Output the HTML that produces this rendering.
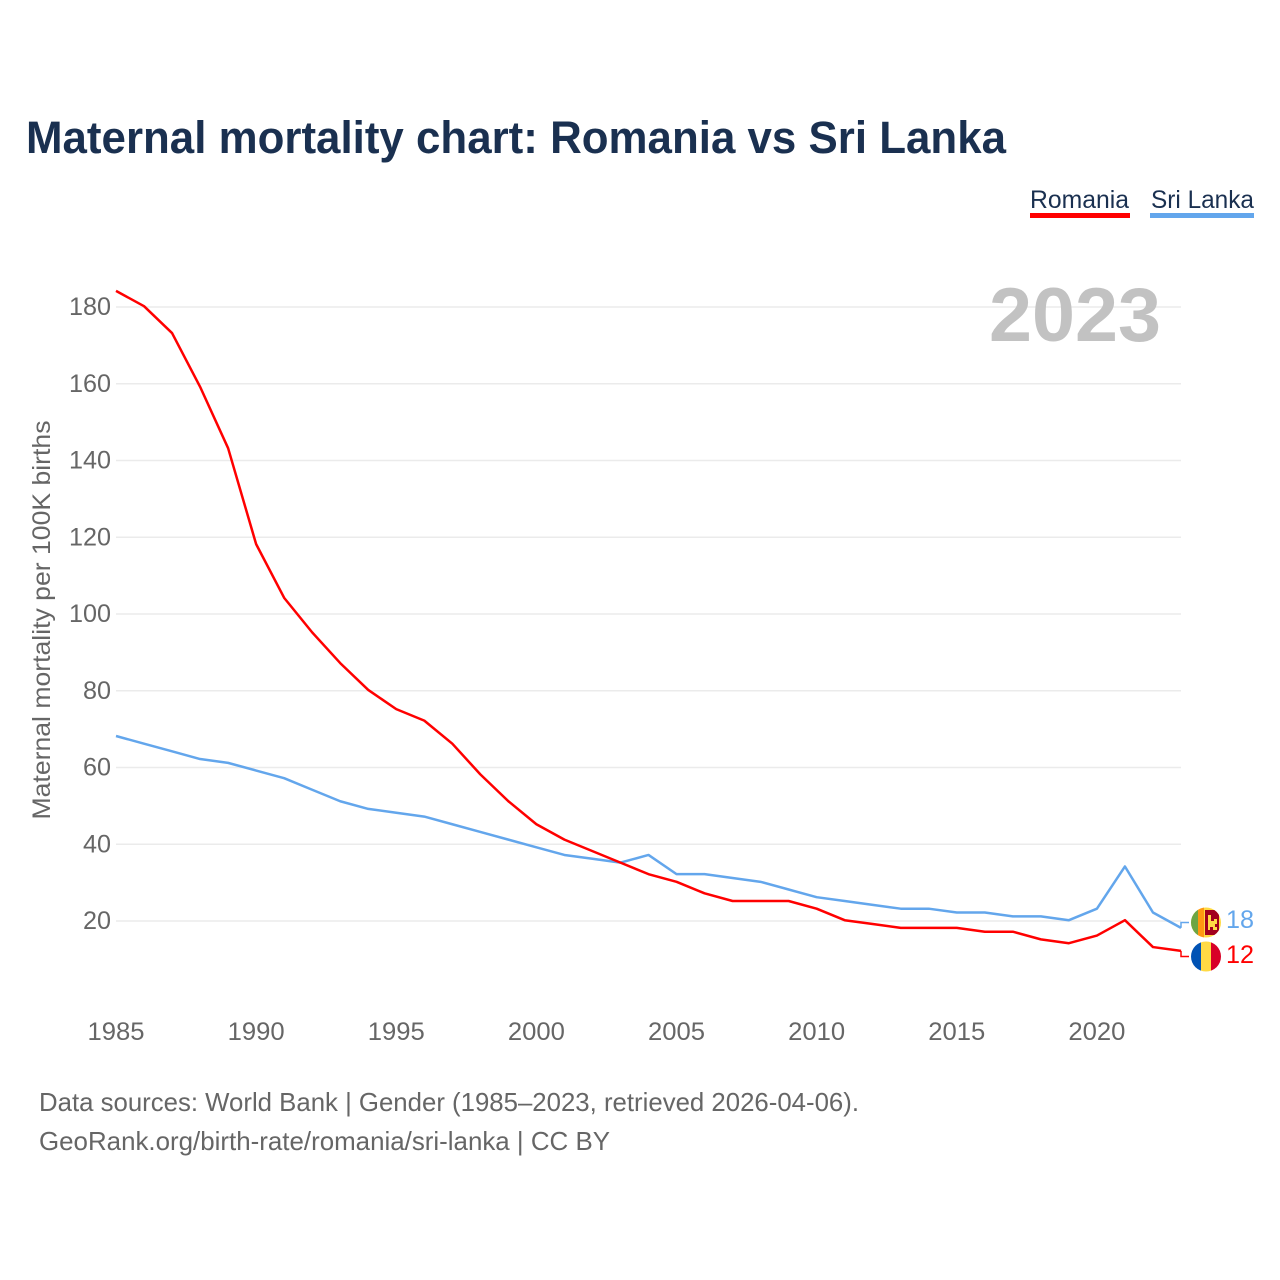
<!DOCTYPE html>
<html>
<head>
<meta charset="utf-8">
<style>
html,body{margin:0;padding:0;background:#fff;}
svg{display:block;font-family:"Liberation Sans",sans-serif;}
</style>
</head>
<body>
<svg id="chart" width="1280" height="1280" viewBox="0 0 1280 1280" xmlns="http://www.w3.org/2000/svg">
  <rect width="1280" height="1280" fill="#ffffff"/>
  <text x="26" y="153" font-size="45" font-weight="700" fill="#1a3050" textLength="980" lengthAdjust="spacingAndGlyphs">Maternal mortality chart: Romania vs Sri Lanka</text>

  <g>
    <text x="1030" y="208" font-size="25" fill="#1a3050" textLength="99" lengthAdjust="spacingAndGlyphs">Romania</text>
    <rect x="1030" y="213" width="100" height="5" fill="#ff0000"/>
    <text x="1151" y="208" font-size="25" fill="#1a3050" textLength="103" lengthAdjust="spacingAndGlyphs">Sri Lanka</text>
    <rect x="1150" y="213" width="104" height="5" fill="#63a6ec"/>
  </g>

  <g id="grid"></g>
  <g id="yticks"></g>
  <g id="xticks"></g>

  <text x="1161" y="341" font-size="76" font-weight="700" fill="#c2c2c2" text-anchor="end" textLength="172" lengthAdjust="spacingAndGlyphs">2023</text>

  <text transform="translate(50,620) rotate(-90)" font-size="25" fill="#666666" text-anchor="middle" textLength="399" lengthAdjust="spacingAndGlyphs">Maternal mortality per 100K births</text>

  <polyline id="line-sri-lanka" fill="none" stroke="#63a6ec" stroke-width="2.5" stroke-linejoin="round"></polyline>
  <polyline id="line-romania" fill="none" stroke="#ff0000" stroke-width="2.5" stroke-linejoin="round"></polyline>

  <path id="leader-sri-lanka" fill="none" stroke="#63a6ec" stroke-width="1.5"></path>
  <path id="leader-romania" fill="none" stroke="#ff0000" stroke-width="1.5"></path>

  <defs>
    <clipPath id="clip-lk"><circle cx="1206" cy="922.5" r="15"/></clipPath>
    <clipPath id="clip-ro"><circle cx="1206" cy="956.5" r="15"/></clipPath>
  </defs>
  <g clip-path="url(#clip-lk)">
    <rect x="1191" y="907" width="30" height="31" fill="#ffda44"/>
    <rect x="1191" y="907" width="7" height="31" fill="#6da544"/>
    <rect x="1198" y="907" width="6" height="31" fill="#ff9811"/>
    <rect x="1205" y="910" width="14" height="25" fill="#a2001d"/>
    <path d="M1208 915h3v6h3v-2h3v5h-2v3h2v3h-4v-3h-3v3h-2z" fill="#ffda44"/>
  </g>
  <g clip-path="url(#clip-ro)">
    <rect x="1191" y="941" width="10" height="31" fill="#0052b4"/>
    <rect x="1201" y="941" width="10" height="31" fill="#ffda44"/>
    <rect x="1211" y="941" width="10" height="31" fill="#d80027"/>
  </g>

  <text id="end-label-sri-lanka" x="1226" y="928" font-size="25" fill="#63a6ec" textLength="28" lengthAdjust="spacingAndGlyphs"></text>
  <text id="end-label-romania" x="1226" y="963" font-size="25" fill="#ff0000" textLength="28" lengthAdjust="spacingAndGlyphs"></text>

  <text x="39" y="1111" font-size="26" fill="#666666" textLength="820" lengthAdjust="spacingAndGlyphs">Data sources: World Bank | Gender (1985–2023, retrieved 2026-04-06).</text>
  <text x="39" y="1150" font-size="26" fill="#666666" textLength="571" lengthAdjust="spacingAndGlyphs">GeoRank.org/birth-rate/romania/sri-lanka | CC BY</text>
</svg>
<script>
const years = [1985,1986,1987,1988,1989,1990,1991,1992,1993,1994,1995,1996,1997,1998,1999,2000,2001,2002,2003,2004,2005,2006,2007,2008,2009,2010,2011,2012,2013,2014,2015,2016,2017,2018,2019,2020,2021,2022,2023];
const romania = [184,180,173,159,143,118,104,95,87,80,75,72,66,58,51,45,41,38,35,32,30,27,25,25,25,23,20,19,18,18,18,17,17,15,14,16,20,13,12];
const sriLanka = [68,66,64,62,61,59,57,54,51,49,48,47,45,43,41,39,37,36,35,37,32,32,31,30,28,26,25,24,23,23,22,22,21,21,20,23,34,22,18];
const yTickValues = [20,40,60,80,100,120,140,160,180];
const xTickValues = [1985,1990,1995,2000,2005,2010,2015,2020];

const NS = 'http://www.w3.org/2000/svg';
function xScale(year){ return 116 + (year - 1985) * (1065 / 38); }
function yScale(value){ return 921 - (value - 20) * (614 / 160); }
function lineY(value){ return yScale(value) - 0.8; }
function toPoints(series){
  return series.map(function(v,i){ return xScale(years[i]).toFixed(2) + ',' + lineY(v).toFixed(2); }).join(' ');
}

const grid = document.getElementById('grid');
const yticks = document.getElementById('yticks');
const xticks = document.getElementById('xticks');

yTickValues.forEach(function(v){
  const line = document.createElementNS(NS,'line');
  
  
  line.setAttribute('x1', 116);
  line.setAttribute('x2', 1181);
  line.setAttribute('y1', yScale(v));
  line.setAttribute('y2', yScale(v));
  line.setAttribute('stroke', '#ebebeb');
  line.setAttribute('stroke-width', '1.5');
  grid.appendChild(line);

  const t = document.createElementNS(NS,'text');
  
  
  t.setAttribute('x', 111);
  t.setAttribute('y', yScale(v) + 8);
  t.setAttribute('text-anchor', 'end');
  t.setAttribute('font-size', '25');
  t.setAttribute('fill', '#666666');
  t.setAttribute('textLength', String(v).length * 14);
  t.setAttribute('lengthAdjust', 'spacingAndGlyphs');
  t.textContent = v;
  yticks.appendChild(t);
});

xTickValues.forEach(function(y){
  const t = document.createElementNS(NS,'text');
  
  
  t.setAttribute('x', xScale(y));
  t.setAttribute('y', 1040);
  t.setAttribute('text-anchor', 'middle');
  t.setAttribute('font-size', '25');
  t.setAttribute('fill', '#666666');
  t.setAttribute('textLength', '57');
  t.setAttribute('lengthAdjust', 'spacingAndGlyphs');
  t.textContent = y;
  xticks.appendChild(t);
});

document.getElementById('line-romania').setAttribute('points', toPoints(romania));
document.getElementById('line-sri-lanka').setAttribute('points', toPoints(sriLanka));

const lastIndex = years.length - 1;
const endX = xScale(years[lastIndex]);
document.getElementById('leader-sri-lanka').setAttribute('d', 'M' + endX + ' ' + lineY(sriLanka[lastIndex]) + 'V922.5H1189');
document.getElementById('leader-romania').setAttribute('d', 'M' + endX + ' ' + lineY(romania[lastIndex]) + 'V956.5H1189');
document.getElementById('end-label-sri-lanka').textContent = sriLanka[lastIndex];
document.getElementById('end-label-romania').textContent = romania[lastIndex];
</script>
</body>
</html>
